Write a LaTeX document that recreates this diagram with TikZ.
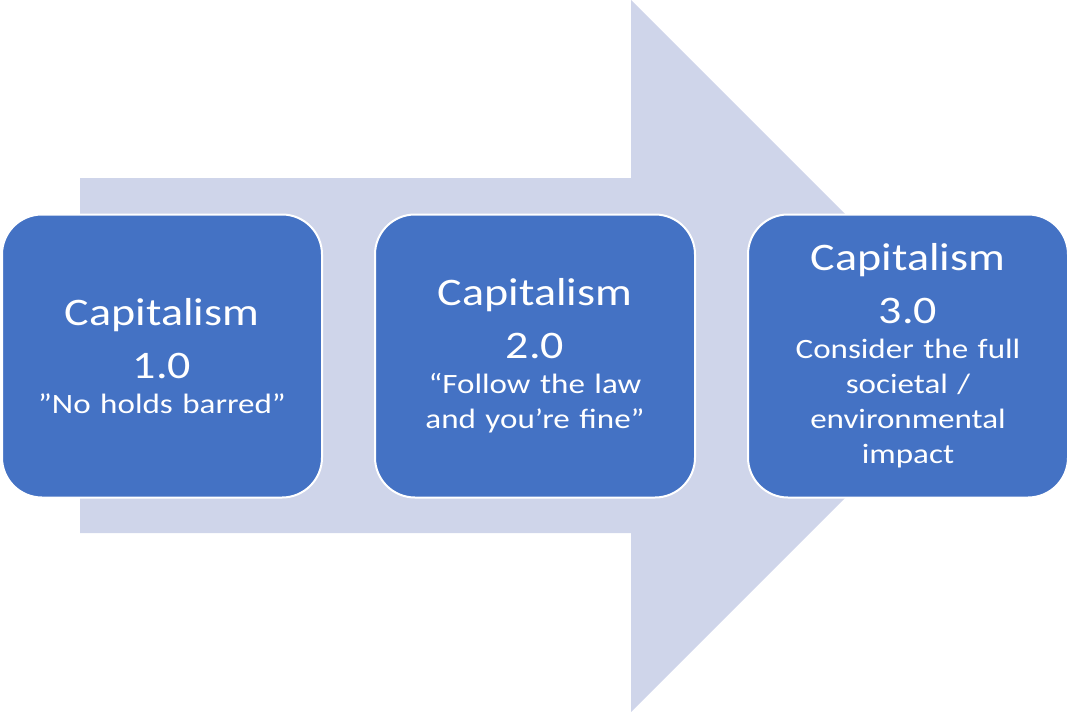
\documentclass[tikz,border=0pt]{standalone}
\usepackage{fontspec}
\setmainfont{Carlito}
\newfontfamily\capfont[FakeStretch=1.18]{Carlito}
\usepackage{tikz}
\usetikzlibrary{positioning}

\definecolor{capblue}{HTML}{4472C4}
\definecolor{flowgray}{HTML}{CFD5EA}

\tikzset{
  stagebox/.style={rectangle, rounded corners=40pt, fill=capblue, draw=white,
    line width=2pt, minimum width=320pt, minimum height=283pt, inner sep=0pt,
    text width=310pt, align=center, text=white, font=\capfont},
}
\newcommand{\stagetitle}[1]{{\fontsize{39}{53}\selectfont Capitalism\\#1\par}}
\newcommand{\stagetext}[1]{{\fontsize{28}{35}\selectfont\spaceskip=0.34em\relax #1\par}}

\begin{document}
\begin{tikzpicture}[x=1pt, y=-1pt, node distance=51pt]
  \useasboundingbox (0,0) rectangle (1068,712);

  % Big arrow behind the stages
  \fill[flowgray] (80,178) -- (631,178) -- (631,0) -- (987,356)
    -- (631,712) -- (631,533) -- (80,533) -- cycle;

  % Stages
  \node[stagebox] (cap1) at (162,356) {\stagetitle{1.0}\stagetext{”No holds barred”}};
  \node[stagebox, right=of cap1] (cap2) {\stagetitle{2.0}\stagetext{“Follow the law\\and you’re fine”}};
  \node[stagebox, right=of cap2] (cap3) {\stagetitle{3.0}\stagetext{Consider the full\\societal /\\environmental\\impact}};
\end{tikzpicture}
\end{document}
